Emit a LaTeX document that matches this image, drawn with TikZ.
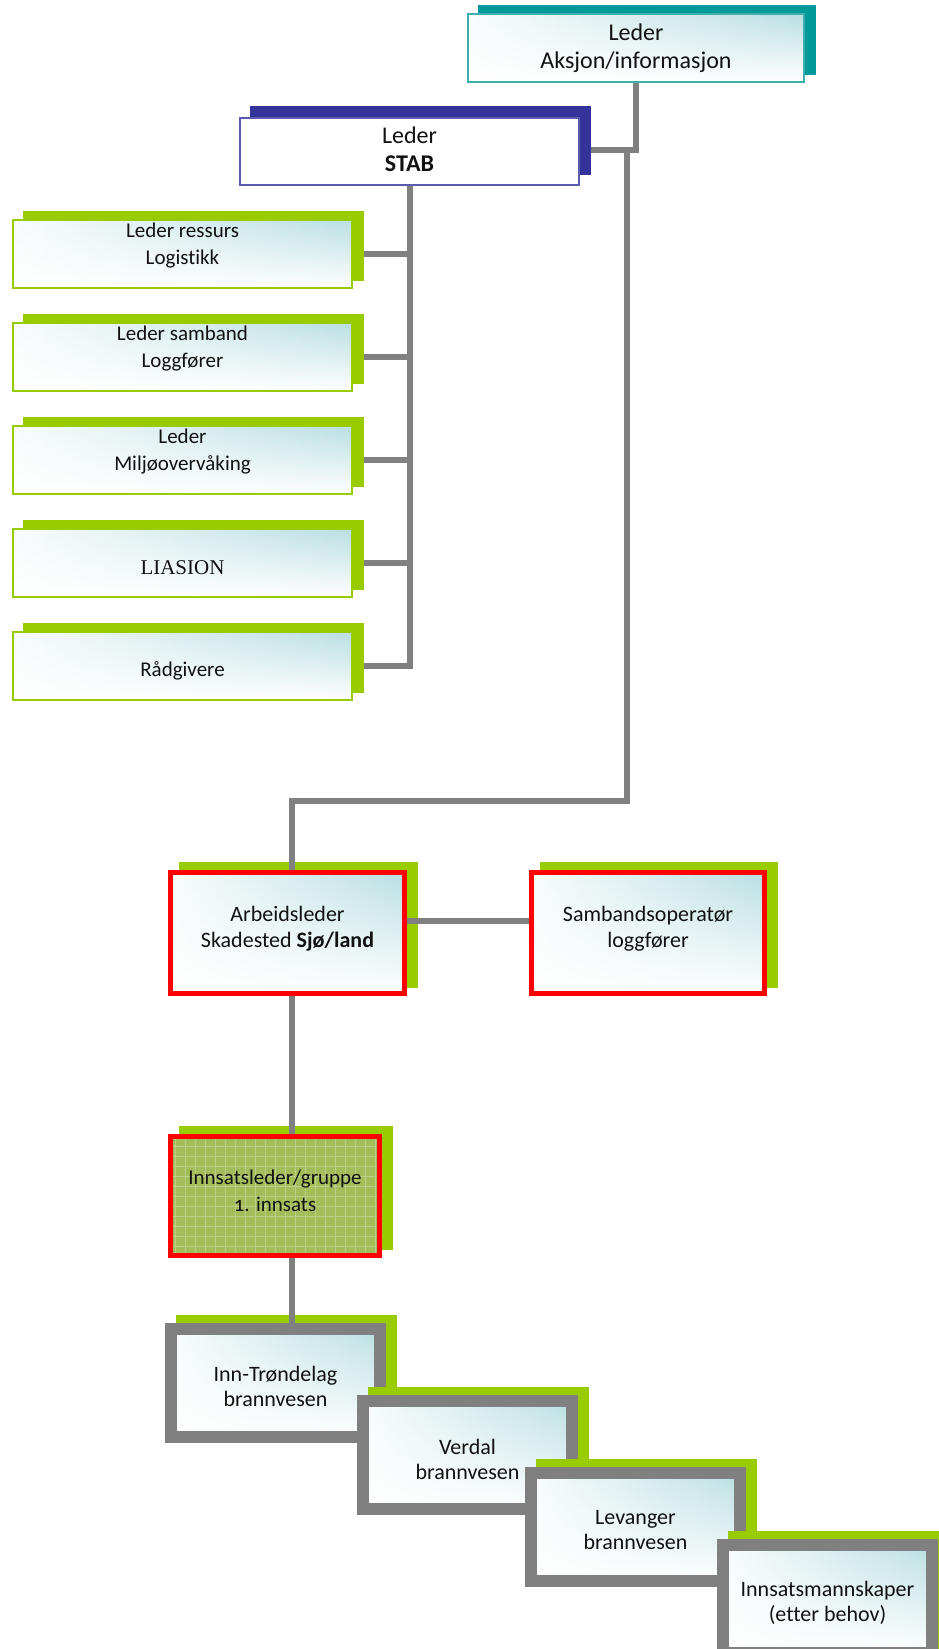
\documentclass[tikz,border=0pt]{standalone}
\usepackage{fontspec}
\setmainfont{Carlito}[Ligatures=NoCommon]
\newfontfamily\timesf{Liberation Serif}
\newfontfamily\onumf{Carlito}[Numbers=OldStyle,Ligatures=NoCommon]
\usetikzlibrary{fadings}
\definecolor{cteal}{RGB}{0,153,153}
\definecolor{ctealb}{RGB}{60,175,175}
\definecolor{cblue}{RGB}{51,51,153}
\definecolor{cblueb}{RGB}{90,90,175}
\definecolor{cgreen}{RGB}{153,204,0}
\definecolor{cred}{RGB}{255,0,0}
\definecolor{cgray}{RGB}{128,128,128}
\definecolor{lteal}{RGB}{186,223,226}
\definecolor{olive}{RGB}{163,190,88}
\definecolor{gridc}{RGB}{188,207,138}
\definecolor{txt}{RGB}{17,17,17}
\pgfdeclarehorizontalshading{boxgrad}{100bp}{color(0bp)=(white); color(20bp)=(white); color(75bp)=(lteal); color(100bp)=(lteal)}
\tikzfading[name=botfade, top color=transparent!100, middle color=transparent!80, bottom color=transparent!0]
\pgfdeclarelayer{cn}
\pgfdeclarelayer{sh}
\pgfsetlayers{cn,sh,main}
\newcommand\shadowof[3]{\fill[#1] ([shift={(#3)}]#2.south west) rectangle ([shift={(#3)}]#2.north east);}
\tikzset{
  conn/.style={draw=cgray, line width=6pt},
  grad/.style={path picture={
    \shade[shading=boxgrad] (path picture bounding box.south west) rectangle (path picture bounding box.north east);
    \fill[white, path fading=botfade] (path picture bounding box.south west) rectangle (path picture bounding box.north east);}},
  basebox/.style={rectangle, inner sep=0pt},
  txtnode/.style={inner sep=0pt, align=center, text=txt},
  aksbox/.style={basebox, grad, draw=ctealb, line width=2pt, minimum width=336pt, minimum height=68pt},
  stabbox/.style={basebox, fill=white, draw=cblueb, line width=2pt, minimum width=339pt, minimum height=67pt},
  leftbox/.style={basebox, grad, draw=cgreen, line width=2pt, minimum width=339pt, minimum height=68pt},
  redbox/.style={basebox, grad, draw=cred, line width=5pt, minimum height=121pt},
  innsbox/.style={basebox, fill=olive, draw=cred, line width=5pt, minimum width=209pt, minimum height=119pt,
    path picture={\draw[gridc, line width=0.7pt] (path picture bounding box.south west) grid[step=10pt] (path picture bounding box.north east);}},
  botbox/.style={basebox, grad, draw=cgray, line width=12pt, minimum width=209pt, minimum height=108pt},
  bigtxt/.style={txtnode, font=\fontsize{24}{28}\selectfont},
  lefttxt/.style={txtnode, font=\fontsize{21}{27}\selectfont},
  midtxt/.style={txtnode, font=\fontsize{22}{26}\selectfont},
  innstxt/.style={txtnode, font=\fontsize{21}{27}\selectfont},
  bottxt/.style={txtnode, font=\fontsize{22}{25}\selectfont}
}
\begin{document}
\begin{tikzpicture}[x=1pt,y=-1pt]
\useasboundingbox (0,0) rectangle (939,1649);
\node[aksbox] (aks) at (636,48) {};
\node[bigtxt] (akst) at (aks.center) {Leder\\Aksjon/informasjon};
\node[stabbox] (stab) at (409.5,151.5) {};
\node[bigtxt] (stabt) at ([yshift=2pt]stab.center) {Leder\\\textbf{STAB}};
\node[leftbox] (l1) at (182.5,254) {};
\node[lefttxt] (l1t) at ([yshift=8pt]l1.center) {Leder ressurs\\Logistikk};
\node[leftbox] (l2) at (182.5,357) {};
\node[lefttxt] (l2t) at ([yshift=8pt]l2.center) {Leder samband\\Loggfører};
\node[leftbox] (l3) at (182.5,460) {};
\node[lefttxt] (l3t) at ([yshift=8pt]l3.center) {Leder\\Miljøovervåking};
\node[leftbox] (l4) at (182.5,563) {};
\node[lefttxt] (l4t) at ([yshift=-5pt]l4.center) {\timesf LIASION};
\node[leftbox] (l5) at (182.5,666) {};
\node[lefttxt] (l5t) at ([yshift=-5pt]l5.center) {Rådgivere};
\node[redbox, minimum width=234pt] (arb) at (287.5,933) {};
\node[midtxt] (arbt) at ([yshift=4pt]arb.center) {Arbeidsleder\\Skadested \textbf{Sjø/land}};
\node[redbox, minimum width=233pt] (samb) at (648,933) {};
\node[midtxt] (sambt) at ([yshift=4pt]samb.center) {Sambandsoperatør\\loggfører};
\node[innsbox] (inns) at (275,1196) {};
\node[innstxt] (innst) at ([yshift=5pt]inns.center) {Innsatsleder/gruppe\\{\onumf 1}. innsats};
\coordinate (ja) at (636,150);
\coordinate (jb) at (627,150);
\coordinate (jc) at (627,801);
\coordinate (jd) at (292,801);
\begin{pgfonlayer}{sh}
\shadowof{cteal}{aks}{11,-8}
\shadowof{cblue}{stab}{11,-11}
\foreach \n in {l1,l2,l3,l4,l5}{\shadowof{cgreen}{\n}{11,-8}}
\shadowof{cgreen}{arb}{11,-8}
\shadowof{cgreen}{samb}{11,-8}
\shadowof{cgreen}{inns}{11,-8}
\end{pgfonlayer}
\begin{pgfonlayer}{cn}
\draw[conn] (aks.south) -- (ja) -- (ja -| stab.east);
\draw[conn] (stab.south) -- (stab.south |- l5.east) -- (l5.east);
\foreach \n in {l1,l2,l3,l4}{\draw[conn] (\n.east) -- (stab.south |- \n.east);}
\end{pgfonlayer}
\draw[conn] (jb) -- (jc) -- (jd) -- (jd |- arb.north);
\draw[conn] ([yshift=12pt]arb.east) -- ([yshift=12pt]arb.east -| samb.west);
\draw[conn] (arb.south -| jd) -- (inns.north -| jd);
\fill[cgreen] (176,1315) rectangle (397,1435);
\node[botbox] (b1) at (275.5,1383) {};
\node[bottxt] (b1t) at ([yshift=-3pt]b1.center) {Inn-Trøndelag\\brannvesen};
\draw[conn] (inns.south -| jd) -- (b1.north -| jd);
\fill[cgreen] (368,1387) rectangle (589,1507);
\node[botbox] (b2) at (467.5,1455) {};
\node[bottxt] (b2t) at ([yshift=-4pt]b2.center) {Verdal\\brannvesen};
\fill[cgreen] (536,1459) rectangle (757,1579);
\node[botbox] (b3) at (635.5,1527) {};
\node[bottxt] (b3t) at ([yshift=-3pt]b3.center) {Levanger\\brannvesen};
\fill[cgreen] (728,1531) rectangle (949,1651);
\node[botbox] (b4) at (827.5,1599) {};
\node[bottxt] (b4t) at ([yshift=-4pt]b4.center) {Innsatsmannskaper\\(etter behov)};
\end{tikzpicture}
\end{document}
